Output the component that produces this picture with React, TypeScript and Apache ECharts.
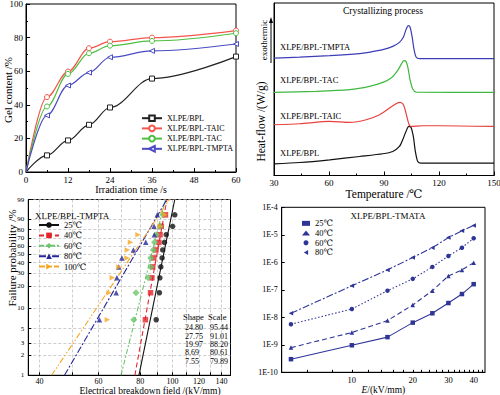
import React, { useEffect, useRef } from 'react';
import * as echarts from 'echarts';

const FONT = '"Liberation Serif", "DejaVu Serif", "Times New Roman", serif';

// ---------- Panel (a): gel content ----------
const gelTime = [0, 6, 12, 18, 24, 36, 60];
const gelNames = ['XLPE/BPL', 'XLPE/BPL-TAIC', 'XLPE/BPL-TAC', 'XLPE/BPL-TMPTA'];
const gelBPL = [0, 9.9, 18.8, 28.1, 38.4, 55.6, 68.7];
const gelTAIC = [0, 44.6, 59.8, 73.7, 77.6, 80.0, 84.2];
const gelTAC = [0, 39.0, 58.4, 70.7, 75.2, 78.0, 82.6];
const gelTMPTA = [0, 33.7, 51.5, 59.2, 68.3, 72.1, 76.2];
const gelXTicks = [0, 12, 24, 36, 48, 60];

// ---------- Panel (b): DSC crystallizing curves [T, heat flow (a.u.)] ----------
const dscBPL = [[30, 11.7], [44, 13], [60.4, 15.7], [76.7, 19], [89.4, 21.7], [94.8, 24], [98.4, 29], [100.2, 35.7], [102, 44], [103.5, 49], [104.7, 48.3], [106, 39], [107.1, 24], [108.4, 14], [110.2, 12.3], [150, 12.3]];
const dscTAIC = [[30, 50.7], [44, 51.7], [60.4, 54], [71.3, 53], [80.3, 55.7], [87.6, 60.7], [93, 67.3], [96.6, 71.7], [98.8, 73], [100.6, 70.7], [102, 62.3], [103.5, 51.7], [104.7, 49], [111, 49.7], [120, 49.7], [150, 49]];
const dscTAC = [[30, 83], [53.2, 84], [71.3, 85.7], [82.1, 89], [89.4, 93], [93.9, 97.3], [97.5, 105], [99.3, 110.7], [100.8, 114.7], [102, 114], [103.1, 107.3], [104.2, 95.7], [105.7, 86.3], [107.5, 83.3], [150, 83]];
const dscTMPTA = [[30, 117.3], [44, 118.3], [60.4, 119.7], [76.7, 121.7], [81.7, 123], [89.4, 125.7], [94.8, 129], [98.4, 133], [100.6, 138.3], [102, 145.7], [103.3, 149.7], [104.2, 148.3], [105.3, 139], [106.4, 125.7], [107.5, 118.3], [109.3, 116.7], [150, 116.7]];
const dscLabels = ['XLPE/BPL-TMPTA', 'XLPE/BPL-TAC', 'XLPE/BPL-TAIC', 'XLPE/BPL'];

// ---------- Panel (c): Weibull plot ----------
const wbTemps = ['25℃', '40℃', '60℃', '80℃', '100℃'];
const wbProb = [6.73, 16.35, 25.96, 35.58, 45.19, 54.81, 64.42, 74.04, 83.65, 93.27];
const wb25 = [89.3, 91.3, 91.6, 92.2, 93.0, 93.4, 94.5, 95.7, 100.0, 101.5];
const wb40 = [82.9, 85.9, 86.7, 87.2, 87.8, 89.2, 91.0, 91.7, 92.5, 95.2];
const wb60 = [76.5, 77.7, 84.5, 86.0, 86.0, 87.5, 88.3, 89.3, 91.7, 93.5];
const wb80 = [60.4, 67.8, 68.1, 69.0, 70.5, 76.3, 83.1, 88.2, 88.0, 90.0];
const wb100 = [63.8, 64.6, 66.0, 69.1, 73.0, 73.2, 74.8, 78.8, 91.8, 94.9];
const wbShape = [24.80, 27.75, 19.97, 8.69, 7.55];
const wbScale = [95.44, 91.01, 88.20, 80.61, 79.89];
const wbXLabels = [40, 60, 80, 100, 120, 140];
const wbXTicks = [40, 50, 60, 70, 80, 90, 100, 110, 120, 130, 140];
const wbYTicks = [1, 2, 3, 5, 10, 20, 30, 40, 50, 60, 70, 80, 90, 99];

// ---------- Panel (d): current vs field ----------
const ivField = [5, 10, 15, 20, 25, 30, 35, 40];
const ivTemps = ['25℃', '40℃', '60℃', '80℃'];
const iv25 = [3.0e-10, 9.6e-10, 1.9e-9, 6.4e-9, 1.4e-8, 3.3e-8, 7.0e-8, 1.6e-7];
const iv40 = [7.9e-10, 2.8e-9, 7.6e-9, 2.8e-8, 9.3e-8, 3.2e-7, 5.3e-7, 9.7e-7];
const iv60 = [5.6e-9, 2.0e-8, 9.3e-8, 2.5e-7, 6.8e-7, 1.7e-6, 3.4e-6, 7.5e-6];
const iv80 = [1.4e-8, 1.4e-7, 5.3e-7, 1.5e-6, 3.4e-6, 7.9e-6, 1.4e-5, 2.2e-5];
const ivXLabels = [10, 20, 30, 40];
const ivXTicks = [6, 8, 10, 12, 14, 16, 18, 20, 22, 24, 26, 28, 30, 32, 34, 36, 38, 40, 42, 44];

const TRI_LEFT = 'path://M10,0L0,5.8L10,11.6Z';
const TRI_RIGHT = 'path://M0,0L10,5.8L0,11.6Z';

const w = (p: number) => Math.log(-Math.log(1 - p / 100));

const baseText = { fontFamily: FONT, color: '#000' };

function buildOption() {
  const axisLine = { show: true, onZero: false, lineStyle: { color: '#000', width: 1 } };
  const tickIn = { show: true, inside: true, length: 4, lineStyle: { color: '#000' } };
  const minorIn = { show: true, splitNumber: 2, length: 2, lineStyle: { color: '#000' } };

  // Panel a series
  const gelColors = ['#222222', '#f2564d', '#4fbf3f', '#4a4ac4'];
  const gelSymbols = ['rect', 'circle', 'circle', TRI_LEFT];
  const gelSeries = [gelBPL, gelTAIC, gelTAC, gelTMPTA].map((arr, k) => ({
    type: 'line', name: gelNames[k], xAxisIndex: 0, yAxisIndex: 0,
    data: gelTime.map((t, i) => (i === 0 ? { value: [t, arr[i]], symbol: 'none' } : [t, arr[i]])),
    smooth: 0.35, smoothMonotone: 'x',
    symbol: gelSymbols[k], symbolSize: 5,
    itemStyle: { color: '#fff', borderColor: gelColors[k], borderWidth: 1 },
    lineStyle: { color: gelColors[k], width: 1.2 },
    z: 3,
  }));

  // Panel b series
  const dscColors = ['#111111', '#e8403c', '#3fb83f', '#3d3db8'];
  const dscSeries = [dscBPL, dscTAIC, dscTAC, dscTMPTA].map((arr, k) => ({
    type: 'line', name: 'dsc' + k, xAxisIndex: 1, yAxisIndex: 1,
    data: arr, showSymbol: false, symbol: 'none', smooth: 0.25,
    lineStyle: { color: dscColors[k], width: 1.2 },
  }));

  // Panel c series
  const wbColors = ['#111111', '#e3262b', '#6cc46c', '#27279a', '#f5a623'];
  const wbSymbols = ['circle', 'rect', 'diamond', 'triangle', TRI_RIGHT];
  const wbDash: any[] = ['solid', [5, 3], [5, 2, 2, 2], [7, 2, 2, 2], [6, 2, 1.5, 2, 1.5, 2]];
  const wbData = [wb25, wb40, wb60, wb80, wb100];
  const wbPts = wbData.map((arr, k) => ({
    type: 'scatter', name: 'pts' + k, xAxisIndex: 2, yAxisIndex: 2,
    data: arr.map((e, i) => [Math.log(e), w(wbProb[i])]),
    symbol: wbSymbols[k], symbolSize: k === 2 ? 7 : 5.5,
    itemStyle: { color: wbColors[k] }, z: 4,
  }));
  const wbFits = wbData.map((_, k) => ({
    type: 'line', name: wbTemps[k], xAxisIndex: 2, yAxisIndex: 2,
    data: [
      [Math.log(wbScale[k]) + w(1) / wbShape[k], w(1)],
      [Math.log(wbScale[k]) + w(99) / wbShape[k], w(99)],
    ],
    showSymbol: false, symbol: wbSymbols[k], symbolSize: 6,
    itemStyle: { color: wbColors[k] },
    lineStyle: { color: wbColors[k], width: 1.1, type: wbDash[k] },
    z: 3,
  }));

  // Panel d series
  const ivColor = '#2e3596';
  const ivSymbols = ['rect', 'triangle', 'circle', TRI_LEFT];
  const ivDash: any[] = ['solid', [5, 3], [1.5, 2], [7, 2, 2, 2]];
  const ivSeries = [iv25, iv40, iv60, iv80].map((arr, k) => ({
    type: 'line', name: 'b:' + ivTemps[k], xAxisIndex: 3, yAxisIndex: 3,
    data: arr.map((v, i) => [Math.log10(ivField[i]), v]),
    symbol: ivSymbols[k], symbolSize: 4.5,
    itemStyle: { color: ivColor },
    lineStyle: { color: ivColor, width: 1.1, type: ivDash[k] },
  }));

  const gridBase = { show: true, borderColor: '#000', borderWidth: 1, backgroundColor: 'transparent', containLabel: false, outerBoundsMode: 'none' };

  const graphic: any[] = [];
  const txt = (text: string, x: number, y: number, size: number, align = 'left', rot = 0, extra: any = {}) =>
    graphic.push({
      type: 'text', x, y, rotation: rot,
      style: { text, fontFamily: FONT, fontSize: size, fill: '#000', align, verticalAlign: 'middle', ...extra },
      z: 10,
    });

  // Panel a y title
  txt('Gel content /%', 7.5, 90, 11, 'center', Math.PI / 2);

  // Panel b annotations
  txt('Crystallizing process', 383, 11, 9.5, 'center');
  const dscLabelY = [47, 80, 116, 153];
  dscLabels.forEach((l, i) => txt(l, 280, dscLabelY[i], 8.5));
  txt('Heat-flow /(W/g)', 261, 121.5, 11.5, 'center', Math.PI / 2);
  txt('exothermic', 264, 40, 9, 'center', Math.PI / 2);
  graphic.push({ type: 'line', shape: { x1: 271, y1: 63, x2: 271, y2: 22 }, style: { stroke: '#000', lineWidth: 1 }, z: 10 });
  graphic.push({ type: 'polygon', shape: { points: [[269, 23], [273, 23], [271, 17]] }, style: { fill: '#000' }, z: 10 });

  // Panel c annotations
  txt('XLPE/BPL-TMPTA', 35, 215.7, 9);
  txt('Shape', 183, 316.7, 8.5);
  txt('Scale', 208, 316.7, 8.5);
  const rowY = [327.7, 336, 344.3, 352.7, 361.2];
  wbShape.forEach((s, i) => {
    txt(s.toFixed(2), 185, rowY[i], 8);
    txt(wbScale[i].toFixed(2), 210, rowY[i], 8);
  });
  txt('Electrical breakdown field /(kV/mm)', 150, 390.5, 9.5, 'center');
  txt('Failure probability /%', 12, 258, 11, 'center', Math.PI / 2);

  // Panel d annotations
  txt('XLPE/BPL-TMATA', 388, 216, 9, 'center');

  const legendText = { fontFamily: FONT, color: '#000' };

  return {
    animation: false,
    textStyle: { fontFamily: FONT },
    grid: [
      { ...gridBase, left: 26, top: 4, width: 210, height: 168 },
      { ...gridBase, left: 274, top: 3, width: 220, height: 172.5 },
      { ...gridBase, left: 28.3, top: 199.5, width: 202.2, height: 175.8 },
      { ...gridBase, left: 281.7, top: 207.3, width: 203.3, height: 165 },
    ],
    xAxis: [
      {
        type: 'value', gridIndex: 0, min: 0, max: 60, interval: 12,
        axisLine, axisTick: tickIn, minorTick: minorIn,
        axisLabel: { ...baseText, fontSize: 9, margin: 3, showMinLabel: true, showMaxLabel: true, customValues: gelXTicks },
        splitLine: { show: false },
        name: 'Irradiation time /s', nameLocation: 'middle', nameGap: 11,
        nameTextStyle: { ...baseText, fontSize: 10, verticalAlign: 'top' },
      },
      {
        type: 'value', gridIndex: 1, min: 30, max: 150, interval: 30,
        axisLine, axisTick: tickIn, minorTick: minorIn,
        axisLabel: { ...baseText, fontSize: 9, margin: 3, showMinLabel: true, showMaxLabel: true },
        splitLine: { show: false },
        name: 'Temperature /℃', nameLocation: 'middle', nameGap: 8,
        nameTextStyle: { ...baseText, fontSize: 11.5, verticalAlign: 'top' },
      },
      {
        type: 'value', gridIndex: 2, min: Math.log(37), max: Math.log(149),
        axisLine, axisTick: { ...tickIn, length: 3, customValues: wbXTicks.map((v) => Math.log(v)) },
        axisLabel: {
          ...baseText, fontSize: 8, margin: 2.5,
          customValues: wbXLabels.map((v) => Math.log(v)),
          formatter: (v: number) => String(Math.round(Math.exp(v))),
        },
        splitLine: { show: true, lineStyle: { color: '#b8b8b8', width: 0.7, type: [3, 2] } },
      },
      {
        type: 'value', gridIndex: 3, min: Math.log10(4.5), max: Math.log10(45.5),
        axisLine, axisTick: { ...tickIn, length: 2.5, customValues: ivXTicks.map((v) => Math.log10(v)) },
        axisLabel: {
          ...baseText, fontSize: 8.5, margin: 3,
          customValues: ivXLabels.map((v) => Math.log10(v)),
          formatter: (v: number) => String(Math.round(Math.pow(10, v))),
        },
        splitLine: { show: false },
        name: '{i|E}/(kV/mm)', nameLocation: 'middle', nameGap: 13,
        nameTextStyle: {
          ...baseText, fontSize: 9.5, verticalAlign: 'top',
          rich: { i: { fontFamily: FONT, fontSize: 9.5, fontStyle: 'italic', color: '#000' } },
        },
      },
    ],
    yAxis: [
      {
        type: 'value', gridIndex: 0, min: 0, max: 100, interval: 20,
        axisLine, axisTick: tickIn, minorTick: minorIn,
        axisLabel: { ...baseText, fontSize: 9, margin: 3, showMinLabel: true, showMaxLabel: true },
        splitLine: { show: false },
      },
      {
        type: 'value', gridIndex: 1, min: 0, max: 172.3,
        axisLine, axisTick: { show: false }, axisLabel: { show: false }, splitLine: { show: false },
      },
      {
        type: 'value', gridIndex: 2, min: w(1), max: w(99),
        axisLine, axisTick: { ...tickIn, length: 3, customValues: wbYTicks.map(w) },
        axisLabel: {
          ...baseText, fontSize: 7, lineHeight: 7, margin: 4,
          customValues: wbYTicks.map(w),
          formatter: (v: number) => String(Math.round(100 * (1 - Math.exp(-Math.exp(v))))),
        },
        splitLine: { show: true, lineStyle: { color: '#b8b8b8', width: 0.7, type: [3, 2] } },
      },
      {
        type: 'log', logBase: 10, gridIndex: 3, min: 1e-10, max: 1e-4, splitNumber: 6,
        axisLine, axisTick: { ...tickIn, length: 3 },
        axisLabel: {
          ...baseText, fontSize: 8, margin: 4, showMinLabel: true, showMaxLabel: true,
          formatter: (v: number) => '1E' + Math.round(Math.log10(v)),
        },
        splitLine: { show: false },
      },
    ],
    legend: [
      {
        data: gelNames, orient: 'vertical', left: 141, top: 113.2, padding: 0,
        itemWidth: 20, itemHeight: 7, itemGap: 0.2,
        textStyle: { ...legendText, fontSize: 8, lineHeight: 10 },
        selectedMode: false,
      },
      {
        data: wbTemps, orient: 'vertical', left: 38, top: 219.8, padding: 0,
        itemWidth: 20, itemHeight: 7, itemGap: 0,
        textStyle: { ...legendText, fontSize: 8.5, lineHeight: 10.4 },
        selectedMode: false,
      },
      {
        data: ivTemps.map((t, k) => ({ name: 'b:' + t, icon: ['rect', 'triangle', 'circle', TRI_LEFT][k] })),
        orient: 'vertical', left: 302, top: 218.5, padding: 0,
        itemWidth: 8, itemHeight: 5, itemGap: 0,
        formatter: (n: string) => n.slice(2),
        textStyle: { ...legendText, fontSize: 8.5, lineHeight: 9.7 },
        itemStyle: { color: ivColor },
        selectedMode: false,
      },
    ],
    graphic,
    series: [...gelSeries, ...dscSeries, ...wbFits, ...wbPts, ...ivSeries],
  };
}

export default function App() {
  const ref = useRef<HTMLDivElement>(null);
  useEffect(() => {
    if (!ref.current) return;
    const chart = echarts.init(ref.current, null, { renderer: 'svg' });
    chart.setOption(buildOption() as any);
    return () => chart.dispose();
  }, []);
  return <div ref={ref} style={{ position: 'absolute', left: 0, top: 0, width: 500, height: 395, background: '#fff' }} />;
}
